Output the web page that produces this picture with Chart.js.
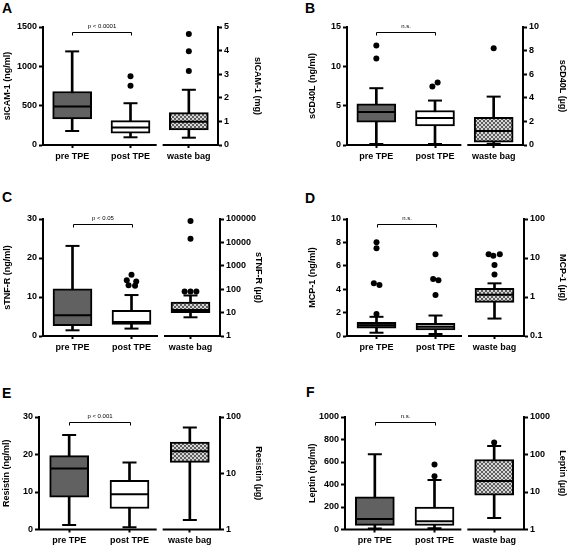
<!DOCTYPE html>
<html><head><meta charset="utf-8">
<script src="https://cdn.jsdelivr.net/npm/chart.js@4.4.0/dist/chart.umd.min.js"></script>
<style>
html,body{margin:0;padding:0;background:#fff;}
body{width:567px;height:550px;overflow:hidden;position:relative;font-family:"Liberation Sans",Arial,sans-serif;}
canvas{position:absolute;}
.lbl{position:absolute;font:bold 14px "Liberation Sans",Arial,sans-serif;line-height:14px;color:#000;}
</style></head><body>
<div class="lbl" style="left:2px;top:1px">A</div>
<div class="lbl" style="left:305px;top:1px">B</div>
<div class="lbl" style="left:2px;top:190px">C</div>
<div class="lbl" style="left:305px;top:191px">D</div>
<div class="lbl" style="left:2px;top:386px">E</div>
<div class="lbl" style="left:306px;top:385px">F</div>
<script>
// ---------- data ----------
const categories = ['pre TPE', 'post TPE', 'waste bag'];
// five-number summaries: [min, q1, median, q3, max]
const aPre = [178, 331, 489, 680, 1190];
const aPost = [98, 149, 221, 310, 531];
const aWaste = [0.31, 0.64, 0.99, 1.37, 2.34];
const aOutPre = [];
const aOutPost = [875, 752];
const aOutWaste = [4.70, 3.97, 3.14];

const bPre = [0.13, 2.89, 4.21, 5.23, 7.22];
const bPost = [0.13, 2.42, 3.44, 4.38, 5.65];
const bWaste = [0.1, 0.25, 1.19, 2.35, 4.1];
const bOutPre = [12.66, 11.0];
const bOutPost = [7.44, 7.95];
const bOutWaste = [8.2];

const cPre = [1.46, 2.66, 5.3, 12.1, 23.1];
const cPost = [1.9, 3.0, 3.6, 6.6, 10.5];
const cWaste = [6.3, 9.9, 12.9, 28.4, 54];
const cOutPre = [];
const cOutPost = [15.7, 14.3, 14.0, 13.0, 12.9];
const cOutWaste = [82000, 14350, 80, 80, 80];

const dPre = [0.28, 0.67, 0.92, 1.17, 1.64];
const dPost = [0.17, 0.53, 0.78, 1.08, 1.75];
const dWaste = [0.28, 0.73, 1.15, 1.67, 2.24];
const dOutPre = [8.01, 7.50, 4.50, 4.36, 1.89];
const dOutPost = [6.98, 4.87, 4.76, 3.5];
const dOutWaste = [12.4, 11.5, 12.4, 6.6, 3.8];

const ePre = [1.2, 8.6, 16.3, 19.7, 25.2];
const ePost = [0.6, 5.6, 9.4, 13.1, 17.9];
const eWaste = [1.48, 15.6, 24.7, 36, 64.9];
const eOutPre = [];
const eOutPost = [];
const eOutWaste = [];

const fPre = [9, 37, 94, 290, 668];
const fPost = [11, 37, 74, 199, 440];
const fWaste = [2.03, 8.2, 19.8, 73.6, 168];
const fOutPre = [];
const fOutPost = [577, 474];
const fOutWaste = [208];

// horizontal nudges of overlapping outlier dots (in category units)
const bOutPostShift = [-0.045, 0.045];
const cOutPostShift = [0, -0.08, 0.08, -0.05, 0.06];
const cOutWasteShift = [0, 0, -0.1, 0, 0.1];
const dOutPreShift = [0, 0, -0.045, 0.05, 0];
const dOutPostShift = [0, -0.04, 0.05, 0];
const dOutWasteShift = [-0.1, -0.02, 0.09, 0, 0];

const pTexts = ['p < 0.0001', 'n.s.', 'p < 0.05', 'n.s.', 'p < 0.001', 'n.s.'];
const leftTitles = ['sICAM-1 (ng/ml)', 'sCD40L (ng/ml)', 'sTNF-R (ng/ml)', 'MCP-1 (ng/ml)', 'Resistin (ng/ml)', 'Leptin (ng/ml)'];
const rightTitles = ['sICAM-1 (mg)', 'sCD40L (µg)', 'sTNF-R (µg)', 'MCP-1 (µg)', 'Resistin (µg)', 'Leptin (µg)'];

// ---------- styles ----------
Chart.defaults.font.family = '"Liberation Sans", Arial, sans-serif';
Chart.defaults.font.size = 9;
Chart.defaults.font.weight = 'bold';
Chart.defaults.color = '#000';

function makePattern() {
  const pc = document.createElement('canvas');
  pc.width = 4; pc.height = 4;
  const g = pc.getContext('2d');
  g.fillStyle = '#d6d6d6'; g.fillRect(0, 0, 4, 4);
  g.fillStyle = '#5e5e5e';
  g.fillRect(0, 0, 2, 2); g.fillRect(2, 2, 2, 2);
  return g.createPattern(pc, 'repeat');
}
const hatch = makePattern();
const DARK = '#616161', WHITE = '#ffffff', LIGHT = '#cfcfcf';

const panels = [
  {box:[0,0,283,180], plot:[43,218,27,145], lt:8, rt:257,
   left:{min:0,max:1500,step:500}, right:{type:'linear',min:0,max:5,step:1},
   stats:[aPre,aPost,aWaste], outs:[aOutPre,aOutPost,aOutWaste], shifts:[[],[],[]], fills:[DARK,WHITE]},
  {box:[283,0,290,180], plot:[347,523,27,145], lt:313, rt:562,
   left:{min:0,max:15,step:5}, right:{type:'linear',min:0,max:10,step:2},
   stats:[bPre,bPost,bWaste], outs:[bOutPre,bOutPost,bOutWaste], shifts:[[],bOutPostShift,[]], fills:[DARK,WHITE]},
  {box:[0,180,283,185], plot:[43,220,219,336], lt:8, rt:258,
   left:{min:0,max:30,step:10}, right:{type:'logarithmic',min:1,max:100000},
   stats:[cPre,cPost,cWaste], outs:[cOutPre,cOutPost,cOutWaste], shifts:[[],cOutPostShift,cOutWasteShift], fills:[DARK,WHITE]},
  {box:[283,180,290,185], plot:[347,524,219,336], lt:313, rt:562,
   left:{min:0,max:10,step:2}, right:{type:'logarithmic',min:0.1,max:100},
   stats:[dPre,dPost,dWaste], outs:[dOutPre,dOutPost,dOutWaste], shifts:[dOutPreShift,dOutPostShift,dOutWasteShift], fills:[DARK,LIGHT]},
  {box:[0,365,283,185], plot:[39,220,417,534], lt:7, rt:258,
   left:{min:0,max:30,step:10}, right:{type:'logarithmic',min:1,max:100},
   stats:[ePre,ePost,eWaste], outs:[eOutPre,eOutPost,eOutWaste], shifts:[[],[],[]], fills:[DARK,WHITE]},
  {box:[283,365,290,185], plot:[345,524,417,534], lt:313, rt:562,
   left:{min:0,max:1000,step:200}, right:{type:'logarithmic',min:1,max:1000},
   stats:[fPre,fPost,fWaste], outs:[fOutPre,fOutPost,fOutWaste], shifts:[[],[],[]], fills:[DARK,WHITE]}
];

const deco = {
  id: 'deco',
  afterDraw(chart, args, opts) {
    const ctx = chart.ctx, a = chart.chartArea, xs = chart.scales.xs;
    ctx.save();
    ctx.strokeStyle = '#000';
    ctx.lineWidth = 2;
    const gx = xs.getPixelForValue(1.5);
    ctx.beginPath();
    ctx.moveTo(a.left - 1, a.bottom); ctx.lineTo(gx - 3, a.bottom);
    ctx.moveTo(gx + 3, a.bottom); ctx.lineTo(a.right + 1, a.bottom);
    ctx.stroke();
    const x0 = Math.round(xs.getPixelForValue(0)) + 0.5, x1 = Math.round(xs.getPixelForValue(1)) + 0.5;
    const by = a.top + 5.5;
    ctx.lineWidth = 1;
    ctx.beginPath();
    ctx.moveTo(x0, by + 3); ctx.lineTo(x0, by); ctx.lineTo(x1, by); ctx.lineTo(x1, by + 3);
    ctx.stroke();
    ctx.font = '6px "Liberation Sans", Arial, sans-serif';
    ctx.fillStyle = '#000';
    ctx.textAlign = 'center';
    ctx.textBaseline = 'alphabetic';
    ctx.fillText(opts.text, (x0 + x1) / 2, by - 5);
    ctx.restore();
  }
};

function isPow10(v) {
  const l = Math.log10(v);
  return Math.abs(l - Math.round(l)) < 1e-6;
}
const plainNum = v => String(+Number(v).toPrecision(6));

panels.forEach((p, k) => {
  const [cx, cy, cw, ch] = p.box;
  const [L, R, T, B] = p.plot;
  const off = 9 * 1.2 / 2;
  const padL = p.lt - off - cx;
  const leftW = L - cx - padL;
  const scaleRight = p.rt + off;
  const padR = (cx + cw) - scaleRight;
  const rightW = scaleRight - R;
  const padT = T - cy;
  const xH = 20;
  const padB = (cy + ch) - B - xH;

  const cv = document.createElement('canvas');
  cv.width = cw; cv.height = ch;
  cv.style.left = cx + 'px'; cv.style.top = cy + 'px';
  cv.style.width = cw + 'px'; cv.style.height = ch + 'px';
  document.body.appendChild(cv);

  const [sPre, sPost, sWaste] = p.stats;
  const outPts = (i) => p.outs[i].map((v, j) => ({x: i + (p.shifts[i][j] || 0), y: v}));

  const common = {grouped: false, xAxisID: 'x'};
  const datasets = [
    Object.assign({type: 'bar', yAxisID: 'y', order: 6, barThickness: 2, backgroundColor: '#000', borderWidth: 0,
      data: [[sPre[0], sPre[4]], [sPost[0], sPost[4]], null]}, common),
    Object.assign({type: 'bar', yAxisID: 'y2', order: 6, barThickness: 2, backgroundColor: '#000', borderWidth: 0,
      data: [null, null, [sWaste[0], sWaste[4]]]}, common),
    Object.assign({type: 'bar', yAxisID: 'y', order: 5, barThickness: 39, backgroundColor: [p.fills[0], p.fills[1], 'transparent'],
      borderColor: '#000', borderWidth: 2, borderSkipped: false,
      data: [[sPre[1], sPre[3]], [sPost[1], sPost[3]], null]}, common),
    Object.assign({type: 'bar', yAxisID: 'y2', order: 5, barThickness: 39, backgroundColor: hatch,
      borderColor: '#000', borderWidth: 2, borderSkipped: false,
      data: [null, null, [sWaste[1], sWaste[3]]]}, common),
    {type: 'scatter', xAxisID: 'xs', yAxisID: 'y', order: 4, pointStyle: 'line', pointRadius: 7, pointBorderWidth: 2,
      pointBorderColor: '#000', data: [{x:0,y:sPre[0]},{x:0,y:sPre[4]},{x:1,y:sPost[0]},{x:1,y:sPost[4]}]},
    {type: 'scatter', xAxisID: 'xs', yAxisID: 'y2', order: 4, pointStyle: 'line', pointRadius: 7, pointBorderWidth: 2,
      pointBorderColor: '#000', data: [{x:2,y:sWaste[0]},{x:2,y:sWaste[4]}]},
    {type: 'scatter', xAxisID: 'xs', yAxisID: 'y', order: 3, pointStyle: 'line', pointRadius: 18.5, pointBorderWidth: 2,
      pointBorderColor: '#000', data: [{x:0,y:sPre[2]},{x:1,y:sPost[2]}]},
    {type: 'scatter', xAxisID: 'xs', yAxisID: 'y2', order: 3, pointStyle: 'line', pointRadius: 18.5, pointBorderWidth: 2,
      pointBorderColor: '#000', data: [{x:2,y:sWaste[2]}]},
    {type: 'scatter', xAxisID: 'xs', yAxisID: 'y', order: 1, pointStyle: 'circle', pointRadius: 3, pointBorderWidth: 0,
      pointBackgroundColor: '#000', clip: false, data: outPts(0).concat(outPts(1))},
    {type: 'scatter', xAxisID: 'xs', yAxisID: 'y2', order: 1, pointStyle: 'circle', pointRadius: 3, pointBorderWidth: 0,
      pointBackgroundColor: '#000', clip: false, data: outPts(2)}
  ];

  const yTickCfg = {color: '#000', font: {size: 9, weight: 'bold'}, padding: 2, callback: plainNum};
  const rightScale = {
    type: p.right.type, position: 'right', min: p.right.min, max: p.right.max,
    grid: {drawOnChartArea: false, drawTicks: true, tickLength: 4, tickWidth: 2, tickColor: '#000'},
    border: {display: true, width: 2, color: '#000'},
    title: {display: true, text: rightTitles[k], color: '#000', font: {size: 9, weight: 'bold'}, padding: 0},
    ticks: Object.assign({}, yTickCfg),
    afterFit: s => { s.width = rightW; }
  };
  if (p.right.type === 'logarithmic') {
    rightScale.afterBuildTicks = s => { s.ticks = s.ticks.filter(t => isPow10(t.value)); };
    rightScale.ticks.autoSkip = false;
  } else {
    rightScale.ticks.stepSize = p.right.step;
  }

  new Chart(cv, {
    type: 'bar',
    data: {labels: categories, datasets},
    options: {
      responsive: false, animation: false, events: [], devicePixelRatio: 1,
      layout: {padding: {left: padL, right: padR, top: padT, bottom: padB}},
      plugins: {legend: {display: false}, tooltip: {enabled: false}, deco: {text: pTexts[k]}},
      scales: {
        x: {type: 'category', position: 'bottom', offset: true,
            grid: {offset: false, drawOnChartArea: false, drawTicks: true, tickLength: 3, tickWidth: 2, tickColor: '#000'},
            border: {display: false},
            ticks: {color: '#000', font: {size: 9, weight: 'bold'}, padding: 3, maxRotation: 0, autoSkip: false},
            afterFit: s => { s.height = xH; }},
        xs: {type: 'linear', display: false, offset: false, grace: 0, min: -0.5, max: 2.5,
             grid: {offset: false}},
        y: {type: 'linear', position: 'left', min: p.left.min, max: p.left.max,
            grid: {drawOnChartArea: false, drawTicks: true, tickLength: 4, tickWidth: 2, tickColor: '#000'},
            border: {display: true, width: 2, color: '#000'},
            title: {display: true, text: leftTitles[k], color: '#000', font: {size: 9, weight: 'bold'}, padding: 0},
            ticks: Object.assign({stepSize: p.left.step}, yTickCfg),
            afterFit: s => { s.width = leftW; }},
        y2: rightScale
      }
    },
    plugins: [deco]
  });
});
</script>
</body></html>
